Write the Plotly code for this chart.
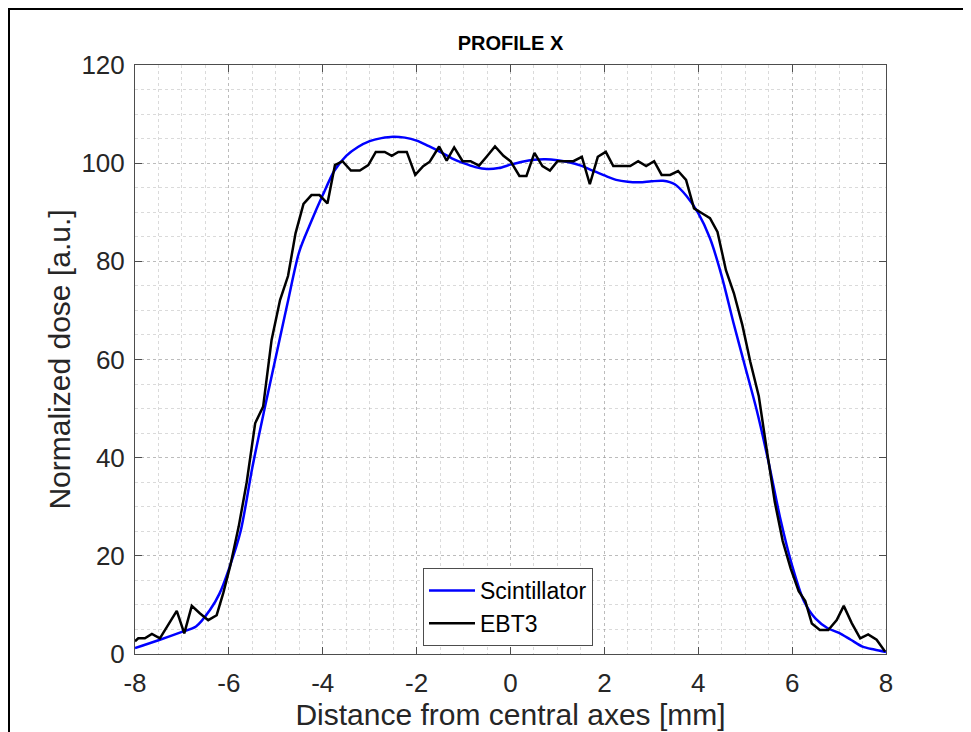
import plotly.graph_objects as go

# Scintillator profile
scint_x = [-8.0, -7.5, -7.0, -6.7, -6.4, -6.2, -6.0, -5.75, -5.5, -5.25, -5.0, -4.75, -4.5, -4.25,
           -4.0, -3.75, -3.5, -3.25, -3.0, -2.75, -2.5, -2.25, -2.0, -1.75, -1.5, -1.25, -1.0,
           -0.75, -0.5, -0.25, 0.0, 0.25, 0.5, 0.75, 1.0, 1.25, 1.5, 1.75, 2.0, 2.25, 2.5, 2.75,
           3.0, 3.25, 3.5, 3.75, 4.0, 4.25, 4.5, 4.75, 5.0, 5.25, 5.5, 5.75, 6.0, 6.25, 6.5,
           6.75, 7.0, 7.25, 7.5, 7.75, 8.0]
scint_y = [1.2, 2.8, 4.5, 5.6, 9.0, 12.3, 17.3, 25.0, 38.0, 49.5, 60.5, 71.5, 82.0, 88.0,
           93.5, 98.5, 101.5, 103.3, 104.5, 105.1, 105.4, 105.2, 104.6, 103.5, 102.3, 101.0, 100.0,
           99.2, 98.8, 99.0, 99.7, 100.3, 100.7, 100.8, 100.6, 100.2, 99.5, 98.5, 97.5, 96.6, 96.2, 96.1,
           96.3, 96.4, 95.7, 93.3, 89.8, 84.7, 77.0, 67.5, 58.5, 49.5, 39.0, 27.5, 18.0, 10.8, 7.2,
           5.3, 4.3, 2.9, 1.5, 0.9, 0.4]

# EBT3 film profile
ebt3_x = [-8.00, -7.93, -7.79, -7.64, -7.47, -7.29, -7.11, -6.95, -6.79, -6.62, -6.44, -6.26,
          -6.12, -5.97, -5.79, -5.62, -5.44, -5.27, -5.09, -4.91, -4.74, -4.58, -4.41, -4.24,
          -4.07, -3.90, -3.74, -3.58, -3.40, -3.21, -3.03, -2.87, -2.68, -2.53, -2.39, -2.21,
          -2.03, -1.86, -1.72, -1.52, -1.36, -1.20, -1.02, -0.85, -0.67, -0.51, -0.33, -0.15,
          0.00, 0.19, 0.34, 0.51, 0.68, 0.84, 1.00, 1.16, 1.34, 1.52, 1.69, 1.86, 2.03, 2.19,
          2.37, 2.55, 2.72, 2.89, 3.06, 3.22, 3.40, 3.57, 3.74, 3.91, 4.08, 4.25, 4.41, 4.59,
          4.76, 4.94, 5.11, 5.29, 5.46, 5.63, 5.80, 5.97, 6.14, 6.28, 6.42, 6.59, 6.77, 6.95,
          7.10, 7.27, 7.45, 7.62, 7.80, 7.98]
ebt3_y = [2.6, 3.2, 3.2, 4.1, 3.2, 5.9, 8.8, 4.2, 9.8, 8.3, 6.9, 7.9,
          12.4, 18.0, 26.0, 35.0, 47.0, 50.4, 64.0, 72.1, 77.0, 85.7, 91.7, 93.5,
          93.5, 91.8, 99.6, 100.4, 98.5, 98.5, 99.6, 102.3, 102.3, 101.5, 102.3, 102.3,
          97.6, 99.4, 100.3, 103.4, 100.5, 103.2, 100.4, 100.4, 99.5, 101.3, 103.4, 101.5,
          100.4, 97.4, 97.4, 102.1, 99.4, 98.5, 100.4, 100.4, 100.4, 101.3, 95.7, 101.3, 102.3, 99.4,
          99.4, 99.4, 100.4, 99.4, 100.4, 97.6, 97.6, 98.4, 96.6, 90.8, 89.8, 88.8, 86.0, 78.2,
          73.5, 67.0, 59.5, 52.5, 41.6, 31.0, 23.0, 17.4, 12.8, 10.8, 6.2, 4.9, 4.9, 6.9,
          9.8, 6.3, 3.2, 4.0, 2.9, 0.5]

x_ticks = [-8, -6, -4, -2, 0, 2, 4, 6, 8]
y_ticks = [0, 20, 40, 60, 80, 100, 120]

FONT = "Liberation Sans, Arial, Helvetica, sans-serif"
AXC = "#262626"
LINEC = "#4d4d4d"

# plot area in figure pixels
L, T, PW, PH = 127, 57, 751, 589
W, H = 971, 732

fig = go.Figure()
fig.add_trace(go.Scatter(x=scint_x, y=scint_y, mode="lines", name="Scintillator",
                         line=dict(color="#0000FF", width=2.5, shape="spline", smoothing=0.8)))
fig.add_trace(go.Scatter(x=ebt3_x, y=ebt3_y, mode="lines", name="EBT3",
                         line=dict(color="#000000", width=2.5)))

axis_common = dict(
    showline=True, linecolor=LINEC, linewidth=1, mirror="ticks",
    ticks="inside", ticklen=7, tickcolor=LINEC, tickwidth=1,
    showgrid=True, gridcolor="rgba(150,150,150,0.45)", griddash="dot", gridwidth=1,
    zeroline=False,
    tickfont=dict(family=FONT, size=26, color=AXC),
)

fig.update_xaxes(range=[-8, 8], tickvals=x_ticks, ticktext=[str(v) for v in x_ticks],
                 ticklabelstandoff=6,
                 title=dict(text="Distance from central axes [mm]",
                            font=dict(family=FONT, size=30, color=AXC), standoff=2),
                 minor=dict(dtick=0.5, showgrid=True, gridcolor="rgba(150,150,150,0.35)",
                            griddash="dot", gridwidth=1, ticks=""),
                 **axis_common)
fig.update_yaxes(range=[0, 120], tickvals=y_ticks, ticktext=[str(v) for v in y_ticks],
                 ticklabelstandoff=4,
                 title=dict(text="Normalized dose [a.u.]",
                            font=dict(family=FONT, size=30, color=AXC), standoff=1),
                 minor=dict(dtick=5, showgrid=True, gridcolor="rgba(150,150,150,0.35)",
                            griddash="dot", gridwidth=1, ticks=""),
                 **axis_common)

fig.update_layout(
    width=W, height=H,
    margin=dict(l=L, r=W - L - PW, t=T, b=H - T - PH),
    paper_bgcolor="white", plot_bgcolor="white",
    title=dict(text="<b>PROFILE X</b>", x=(L + PW / 2) / W, xanchor="center",
               y=1 - 35 / H, yanchor="middle",
               font=dict(family=FONT, size=20, color="#000000")),
    legend=dict(x=(415 - L) / PW, y=(T + PH - 560) / PH, xanchor="left", yanchor="top",
                bgcolor="white", bordercolor=LINEC, borderwidth=1,
                font=dict(family=FONT, size=23, color="#000000"),
                tracegroupgap=0, itemwidth=46),
    showlegend=True,
)

# outer figure frame
fig.add_shape(type="rect", xref="paper", yref="paper",
              x0=(1 - L) / PW, x1=(961 - L) / PW,
              y0=(T + PH - 760) / PH, y1=(T + PH - 1) / PH,
              line=dict(color="black", width=2), fillcolor="rgba(0,0,0,0)", layer="above")

fig.write_html("out.html")
